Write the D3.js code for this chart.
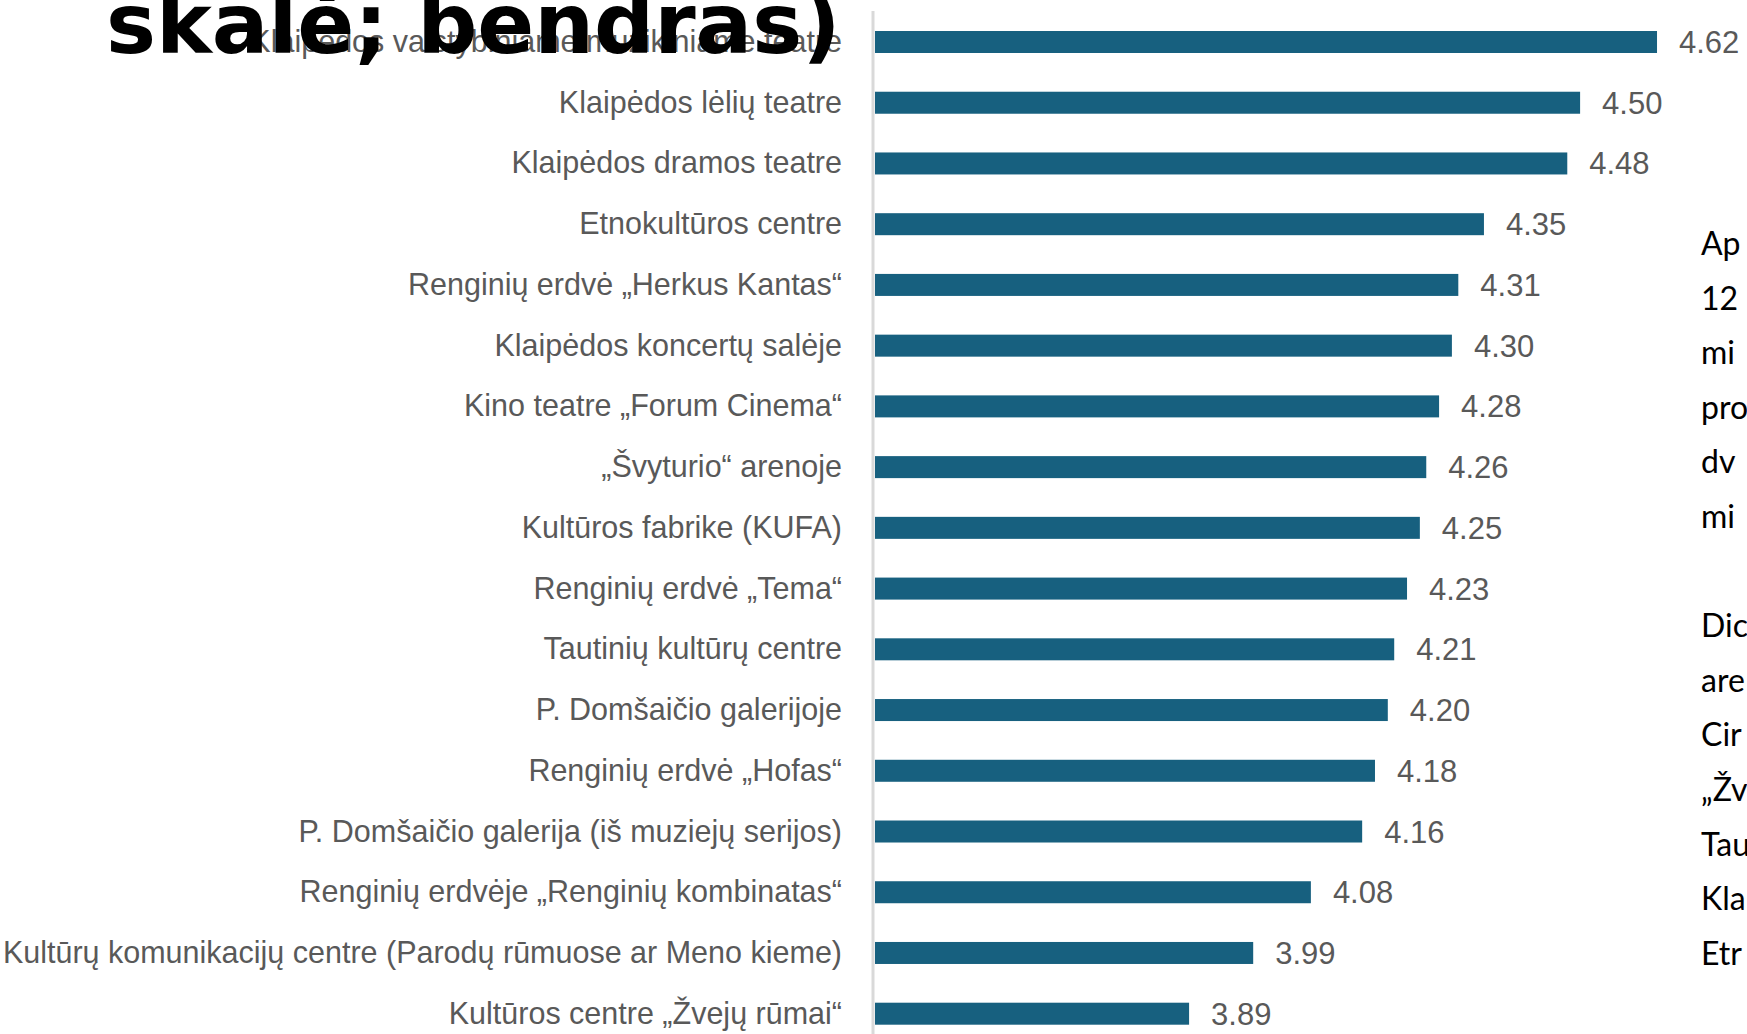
<!DOCTYPE html>
<html>
<head>
<meta charset="utf-8">
<script src="https://cdn.jsdelivr.net/npm/d3@7"></script>
<style>
  html, body { margin: 0; padding: 0; background: #ffffff; overflow: hidden; }
  svg { display: block; }
</style>
</head>
<body>
<svg id="chart" width="1747" height="1034"></svg>
<script>
// ---- data ----
const categories = [
  "Klaipėdos valstybiniame muzikiniame teatre",
  "Klaipėdos lėlių teatre",
  "Klaipėdos dramos teatre",
  "Etnokultūros centre",
  "Renginių erdvė „Herkus Kantas“",
  "Klaipėdos koncertų salėje",
  "Kino teatre „Forum Cinema“",
  "„Švyturio“ arenoje",
  "Kultūros fabrike (KUFA)",
  "Renginių erdvė „Tema“",
  "Tautinių kultūrų centre",
  "P. Domšaičio galerijoje",
  "Renginių erdvė „Hofas“",
  "P. Domšaičio galerija (iš muziejų serijos)",
  "Renginių erdvėje „Renginių kombinatas“",
  "Kultūrų komunikacijų centre (Parodų rūmuose ar Meno kieme)",
  "Kultūros centre „Žvejų rūmai“"
];
const values = [4.62, 4.50, 4.48, 4.35, 4.31, 4.30, 4.28, 4.26, 4.25, 4.23, 4.21, 4.20, 4.18, 4.16, 4.08, 3.99, 3.89];
const titleLine = "skalė; bendras)";
const sideText = ["Ap", "12", "mi", "pro", "dv", "mi", "", "Dic", "are", "Cir", "„Žv", "Tau", "Kla", "Etr"];

// ---- layout ----
const svg = d3.select("#chart");
const x = d3.scaleLinear().domain([3.4, 4.8]).range([875, 1772.4]);
const y = d3.scalePoint().domain(categories).range([42, 1013.7]);
const barH = 22;
const data = categories.map((c, i) => ({ c, v: values[i] }));

// category axis (line only)
const yAxis = d3.axisLeft(y).tickSize(0).tickFormat("");
const axisG = svg.append("g").attr("transform", `translate(873,0)`).call(yAxis);
axisG.select(".domain").remove();
svg.append("line")
  .attr("x1", 873).attr("x2", 873)
  .attr("y1", 11).attr("y2", 1034)
  .attr("stroke", "#d9d9d9").attr("stroke-width", 3);

// bars
svg.append("g").selectAll("rect").data(data).join("rect")
  .attr("x", x(3.4))
  .attr("y", d => y(d.c) - barH / 2)
  .attr("width", d => x(d.v) - x(3.4))
  .attr("height", barH)
  .attr("fill", "#17607f");

// value labels
svg.append("g").selectAll("text").data(data).join("text")
  .attr("x", d => x(d.v) + 22)
  .attr("y", d => y(d.c) + 11)
  .attr("font-family", "'Liberation Sans', Arial, sans-serif")
  .attr("font-size", 31)
  .attr("fill", "#595959")
  .text(d => d.v.toFixed(2));

// category labels
svg.append("g").selectAll("text").data(data).join("text")
  .attr("x", 842)
  .attr("y", d => y(d.c) + 10)
  .attr("text-anchor", "end")
  .attr("font-family", "'Liberation Sans', Arial, sans-serif")
  .attr("font-size", 30.5)
  .attr("fill", "#595959")
  .text(d => d.c);

// title (last visible line)
svg.append("text")
  .attr("x", 106).attr("y", 53)
  .attr("font-family", "'DejaVu Sans', sans-serif")
  .attr("font-weight", "bold")
  .attr("font-size", 84)
  .attr("fill", "#000")
  .text(titleLine);

// side text (cut by the window edge)
svg.append("g").selectAll("text").data(sideText).join("text")
  .attr("x", 1701)
  .attr("y", (d, i) => 255 + i * 54.6)
  .attr("font-family", "Lato, sans-serif")
  .attr("font-size", 32)
  .attr("fill", "#000")
  .text(d => d);
</script>
</body>
</html>
